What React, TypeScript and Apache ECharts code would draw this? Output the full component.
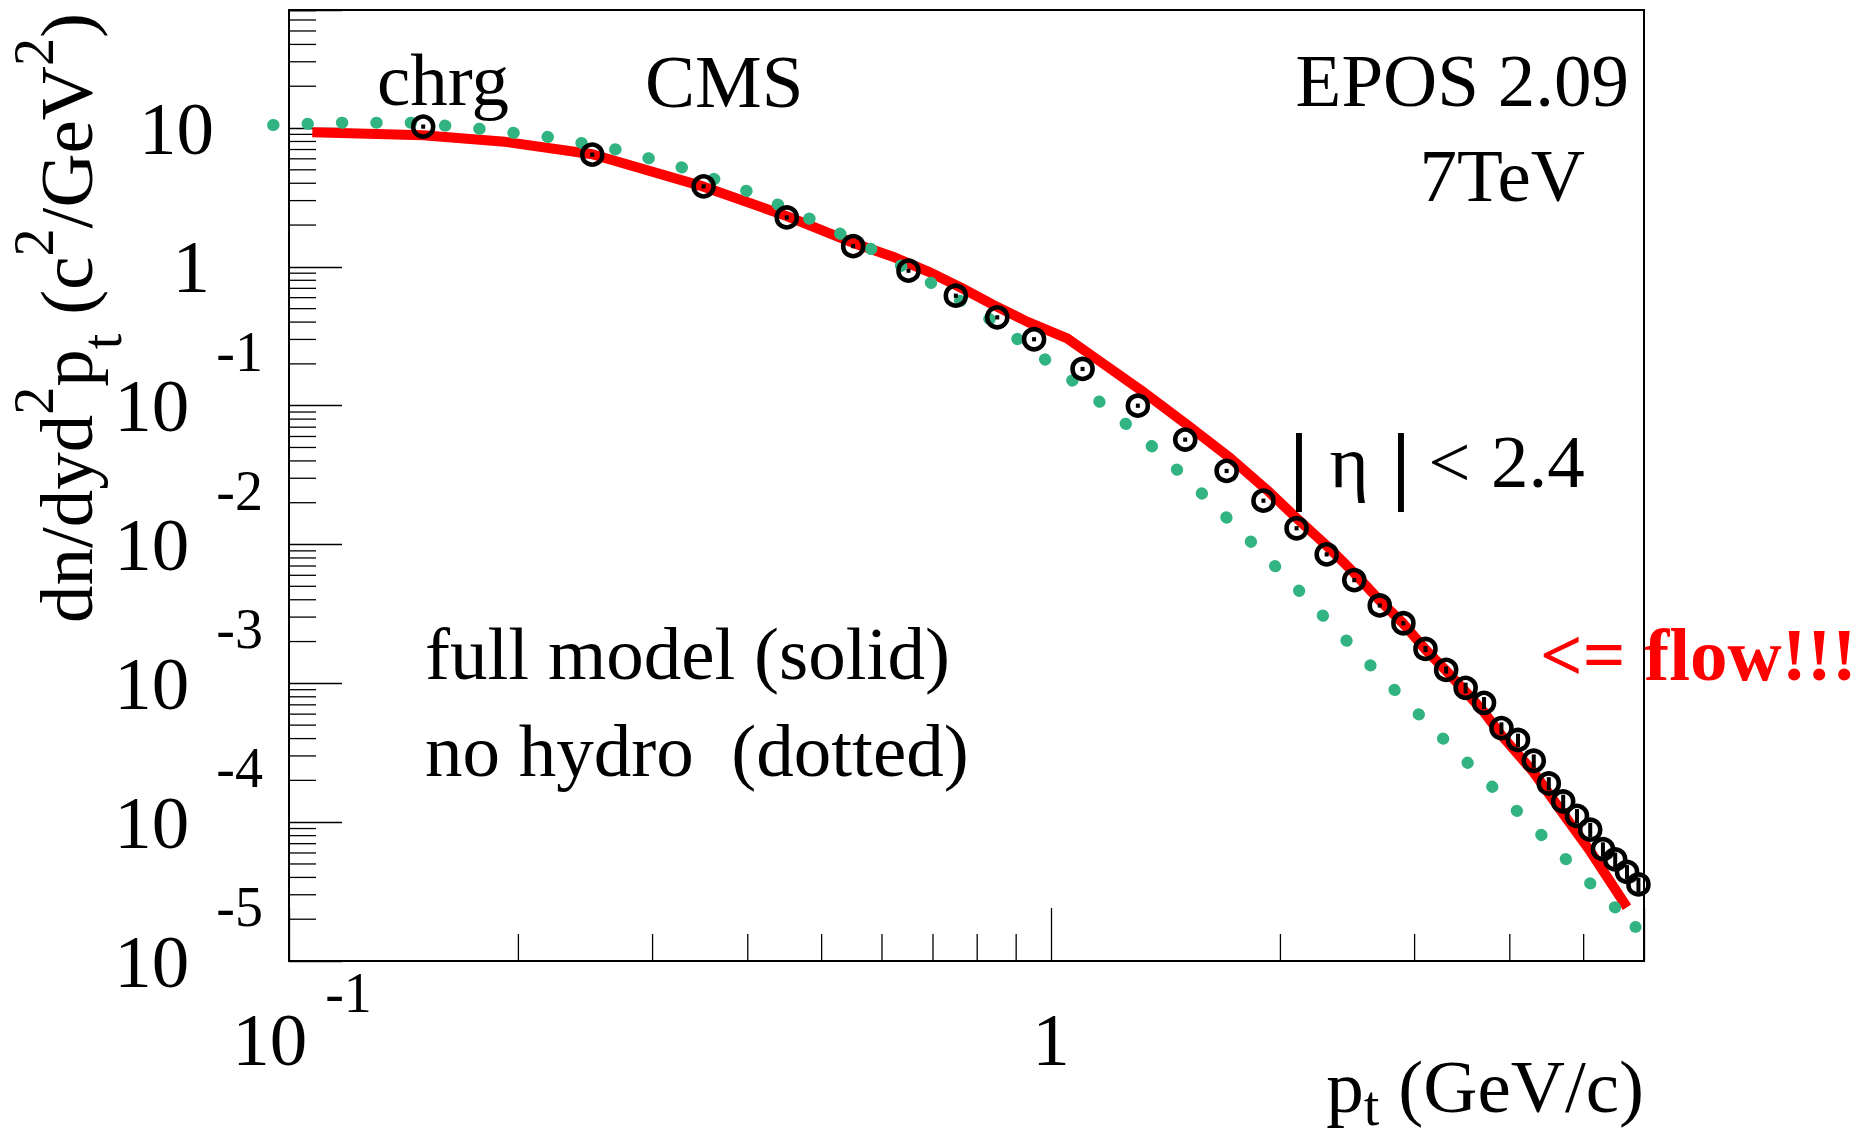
import React, { useEffect, useRef } from 'react';
import * as echarts from 'echarts';

const FONT = '"Liberation Serif", "Times New Roman", Times, serif';

// ---- CMS data (open circles) ----
const cmsPt = [0.15, 0.25, 0.35, 0.45, 0.55, 0.65, 0.75, 0.85, 0.95, 1.1, 1.3, 1.5, 1.7, 1.9, 2.1, 2.3, 2.5, 2.7, 2.9, 3.1, 3.3, 3.5, 3.7, 3.9, 4.1, 4.3, 4.5, 4.7, 4.9, 5.1, 5.3, 5.5, 5.7, 5.9];
const cmsYield = [10.24, 6.43, 3.8, 2.27, 1.41, 0.939, 0.62, 0.433, 0.301, 0.184, 0.1, 0.057, 0.0339, 0.0207, 0.0131, 0.00849, 0.00554, 0.00364, 0.00271, 0.00177, 0.00125, 0.000928, 0.000724, 0.000476, 0.000391, 0.000277, 0.00019, 0.000141, 0.000111, 0.0000883, 0.0000639, 0.0000539, 0.0000438, 0.0000356];
const cmsRelErr = [0.035, 0.035, 0.035, 0.035, 0.035, 0.035, 0.035, 0.035, 0.035, 0.035, 0.035, 0.035, 0.035, 0.035, 0.035, 0.035, 0.035, 0.035, 0.035, 0.05, 0.06, 0.09, 0.1, 0.1, 0.11, 0.11, 0.11, 0.12, 0.12, 0.12, 0.12, 0.12, 0.12, 0.12];

// ---- EPOS full model (solid red) ----
const fullPt = [0.1073, 0.15, 0.192, 0.25, 0.35, 0.45, 0.55, 0.62, 0.69, 0.76, 0.84, 0.93, 0.98, 1.05, 1.16, 1.31, 1.51, 1.72, 1.92, 2.1, 2.3, 2.5, 2.7, 2.9, 3.1, 3.3, 3.5, 3.7, 3.9, 4.3, 4.7, 5.1, 5.7];
const fullYield = [9.31, 8.88, 7.96, 6.47, 3.78, 2.32, 1.486, 1.183, 0.924, 0.713, 0.532, 0.403, 0.357, 0.305, 0.208, 0.13, 0.0726, 0.0418, 0.0247, 0.0155, 0.00982, 0.00623, 0.00395, 0.00269, 0.00175, 0.00123, 0.00087, 0.00062, 0.000423, 0.000228, 0.000115, 0.0000618, 0.0000244];

// ---- EPOS no hydro (dotted green) ----
const noHydroPt = [0.0953, 0.1175, 0.1456, 0.1788, 0.2208, 0.2707, 0.3313, 0.4043, 0.4887, 0.5905, 0.7097, 0.8473, 1.003, 1.184, 1.388, 1.618, 1.877, 2.175, 2.513, 2.913, 3.381, 3.93, 4.561, 5.294, 5.848];
const noHydroYield = [10.51, 10.93, 10.93, 9.84, 8.57, 6.95, 5.12, 3.42, 2.15, 1.286, 0.72, 0.392, 0.1976, 0.0969, 0.0457, 0.0204, 0.00911, 0.00398, 0.00172, 0.000753, 0.000333, 0.000149, 0.0000666, 0.0000296, 0.0000176];

// ---- axes ----
const X_MIN = 0.1;
const X_MAX = 6.0;
const Y_MIN = 1e-5;
const Y_MAX = 70.8;
const MINOR_STEPS = [2, 3, 4, 5, 6, 7, 8, 9];
const X_DECADES = [0.1, 1];
const Y_DECADES = [1e-5, 1e-4, 1e-3, 1e-2, 1e-1, 1, 10];

export default function App() {
  const ref = useRef<HTMLDivElement>(null);

  useEffect(() => {
    const el = ref.current;
    if (!el) return;
    const chart = echarts.init(el, undefined, { renderer: 'svg', width: 1872, height: 1137 });

    const black = '#000000';
    const green = '#32b482';
    const red = '#ff0000';

    const cmsData = cmsPt.map((x, i) => [x, cmsYield[i]]);
    const cmsErrData = cmsPt.map((x, i) => [x, cmsYield[i], cmsRelErr[i]]);
    const fullData = fullPt.map((x, i) => [x, fullYield[i]]);
    const noHydroData = noHydroPt.map((x, i) => [x, noHydroYield[i]]);

    const xMinor: number[] = [];
    X_DECADES.forEach((d) => MINOR_STEPS.forEach((m) => { const v = m * d; if (v < X_MAX) xMinor.push(v); }));
    const yMinor: number[] = [];
    Y_DECADES.forEach((d) => MINOR_STEPS.forEach((m) => { const v = m * d; if (v < Y_MAX) yMinor.push(v); }));

    const base = { fontFamily: FONT, fontSize: 75, lineHeight: 75, color: black };
    const small = { fontFamily: FONT, fontSize: 56, lineHeight: 56, color: black };
    // compact label layout: base digits centred on the tick, exponent raised,
    // exponent token has zero box height so labels never overlap each other
    const yBase = { fontFamily: FONT, fontSize: 75, height: 108, lineHeight: 108, color: black };
    const xBase = { fontFamily: FONT, fontSize: 75, height: 92, lineHeight: 92, color: black };
    const supTok = { fontFamily: FONT, fontSize: 56, height: 0, lineHeight: 0, verticalAlign: 'top', color: black };
    const tickStyle = { color: black, width: 1.3 };

    const expOf = (v: number) => {
      const e = Math.log10(v);
      const r = Math.round(e);
      return Math.abs(e - r) < 1e-6 ? r : null;
    };

    const txt = (text: string, x: number, y: number, align: string, extra: any = {}) => ({
      type: 'text',
      x,
      y,
      z: 100,
      silent: true,
      style: {
        text,
        fill: black,
        fontFamily: FONT,
        fontSize: 75,
        align,
        textAlign: align,
        verticalAlign: 'middle',
        textVerticalAlign: 'middle',
        ...extra,
      },
    });

    const option: any = {
      animation: false,
      backgroundColor: '#ffffff',
      grid: {
        left: 289,
        top: 10,
        right: 228,
        bottom: 176,
        show: true,
        borderColor: black,
        borderWidth: 2,
        backgroundColor: 'transparent',
        containLabel: false,
        outerBoundsMode: 'none',
      },
      xAxis: {
        type: 'log',
        logBase: 10,
        min: X_MIN,
        max: X_MAX,
        axisLine: { show: false },
        splitLine: { show: false },
        minorTick: { show: false },
        minorSplitLine: { show: false },
        axisTick: { show: true, inside: true, length: 53, lineStyle: tickStyle },
        axisLabel: {
          margin: 78,
          verticalAlign: 'middle',
          showMinLabel: true,
          hideOverlap: false,
          fontFamily: FONT,
          fontSize: 75,
          color: black,
          formatter: (v: number) => {
            const r = expOf(v);
            if (r === null) return '';
            if (r === 0) return '{b|1}';
            return '{bx|10}{s|' + r + '}';
          },
          rich: {
            b: xBase,
            bx: { ...xBase, padding: [0, 0, 0, 26] },
            s: { ...supTok, padding: [0, 0, 0, 18] },
          },
        },
      },
      yAxis: {
        type: 'log',
        logBase: 10,
        min: Y_MIN,
        max: Y_MAX,
        axisLine: { show: false },
        splitLine: { show: false },
        minorTick: { show: false },
        minorSplitLine: { show: false },
        axisTick: { show: true, inside: true, length: 53, lineStyle: tickStyle },
        axisLabel: {
          margin: 26,
          showMinLabel: true,
          hideOverlap: false,
          fontFamily: FONT,
          fontSize: 75,
          color: black,
          formatter: (v: number) => {
            const r = expOf(v);
            if (r === null) return '';
            if (r === 1) return '{ten|10}';
            if (r === 0) return '{one|1}';
            return '{b|10}{s|' + r + '}';
          },
          rich: {
            ten: { ...yBase, padding: [0, 49, 0, 0] },
            one: { ...yBase, padding: [0, 53, 0, 0] },
            b: yBase,
            s: { ...supTok, padding: [0, 0, 0, 27] },
          },
        },
      },
      series: [
        {
          type: 'custom',
          name: 'y minor ticks',
          silent: true,
          z: 1,
          clip: false,
          data: yMinor.map((v) => [X_MIN, v]),
          renderItem: (_p: any, api: any) => {
            const c = api.coord([api.value(0), api.value(1)]);
            return { type: 'line', shape: { x1: c[0], y1: c[1], x2: c[0] + 27, y2: c[1] }, style: { stroke: black, lineWidth: 1.3 } };
          },
        },
        {
          type: 'custom',
          name: 'x minor ticks',
          silent: true,
          z: 1,
          clip: false,
          data: xMinor.map((v) => [v, Y_MIN]),
          renderItem: (_p: any, api: any) => {
            const c = api.coord([api.value(0), api.value(1)]);
            return { type: 'line', shape: { x1: c[0], y1: c[1], x2: c[0], y2: c[1] - 27 }, style: { stroke: black, lineWidth: 1.3 } };
          },
        },
        {
          type: 'line',
          name: 'full model',
          data: fullData,
          symbol: 'none',
          showSymbol: false,
          z: 3,
          lineStyle: { color: red, width: 10, join: 'round', cap: 'butt', opacity: 1 },
          emphasis: { disabled: true },
        },
        {
          // dotted curve: one polyline through all points, via the axes' own scales
          type: 'custom',
          name: 'no hydro',
          silent: true,
          clip: false,
          z: 4,
          data: [noHydroData[0]],
          renderItem: (_p: any, api: any) => {
            const pts = noHydroData.map((d) => api.coord(d));
            const last = pts[pts.length - 1];
            return {
              type: 'group',
              children: [
                {
                  type: 'polyline',
                  shape: { points: pts },
                  style: { stroke: green, fill: null, lineWidth: 12, lineDash: [0.5, 33.9], lineCap: 'round' },
                },
                { type: 'circle', shape: { cx: last[0], cy: last[1], r: 6 }, style: { fill: green } },
              ],
            };
          },
        },
        {
          type: 'scatter',
          name: 'CMS',
          data: cmsData,
          symbol: 'circle',
          symbolSize: 20,
          z: 5,
          itemStyle: { color: 'rgba(0,0,0,0)', borderColor: black, borderWidth: 4.6, opacity: 1 },
          emphasis: { disabled: true },
        },
        {
          type: 'custom',
          name: 'CMS errors',
          silent: true,
          z: 6,
          data: cmsErrData,
          renderItem: (_p: any, api: any) => {
            const x = api.value(0);
            const y = api.value(1);
            const e = api.value(2);
            const a = api.coord([x, y * (1 - e)]);
            const b = api.coord([x, y * (1 + e)]);
            return { type: 'line', shape: { x1: a[0], y1: a[1], x2: b[0], y2: b[1] }, style: { stroke: black, lineWidth: 4 } };
          },
        },
      ],
      graphic: [
        txt('chrg', 377, 79, 'left'),
        txt('CMS', 645, 81, 'left'),
        txt('EPOS 2.09', 1629, 80.5, 'right'),
        txt('7TeV', 1585, 175, 'right'),
        txt('|', 1299, 464, 'center', { fontSize: 86, fontWeight: 'bold' }),
        txt('η', 1349, 461, 'center'),
        txt('|', 1401, 464, 'center', { fontSize: 86, fontWeight: 'bold' }),
        txt('<', 1449.5, 461, 'center'),
        txt('2.4', 1491, 461, 'left'),
        txt('<= flow!!!', 1540, 654, 'left', { fill: red, fontWeight: 'bold' }),
        txt('full model (solid)', 425, 653, 'left'),
        txt('no hydro  (dotted)', 425, 750, 'left'),
        txt('{b|p}{t|t}{g|(GeV/c)}', 1644, 1086, 'right', {
          rich: {
            b: base,
            t: { ...small, padding: [40, 0, 0, 0] },
            g: { ...base, padding: [0, 0, 0, 19] },
          },
        }),
        {
          ...txt('{b|dn/dyd}{s|2}{b|p}{t|t}{g|(c}{s|2}{b|/GeV}{s|2}{b|)}', 66.5, 13, 'right', {
            rich: {
              b: base,
              s: { ...small, padding: [0, 0, 65, 0] },
              t: { ...small, padding: [70, 0, 0, 0] },
              g: { ...base, padding: [0, 0, 0, 19] },
            },
          }),
          rotation: Math.PI / 2,
        },
      ],
    };

    chart.setOption(option);
    return () => {
      chart.dispose();
    };
  }, []);

  return (
    <div
      ref={ref}
      style={{ position: 'fixed', left: 0, top: 0, width: 1872, height: 1137, background: '#ffffff' }}
    />
  );
}
